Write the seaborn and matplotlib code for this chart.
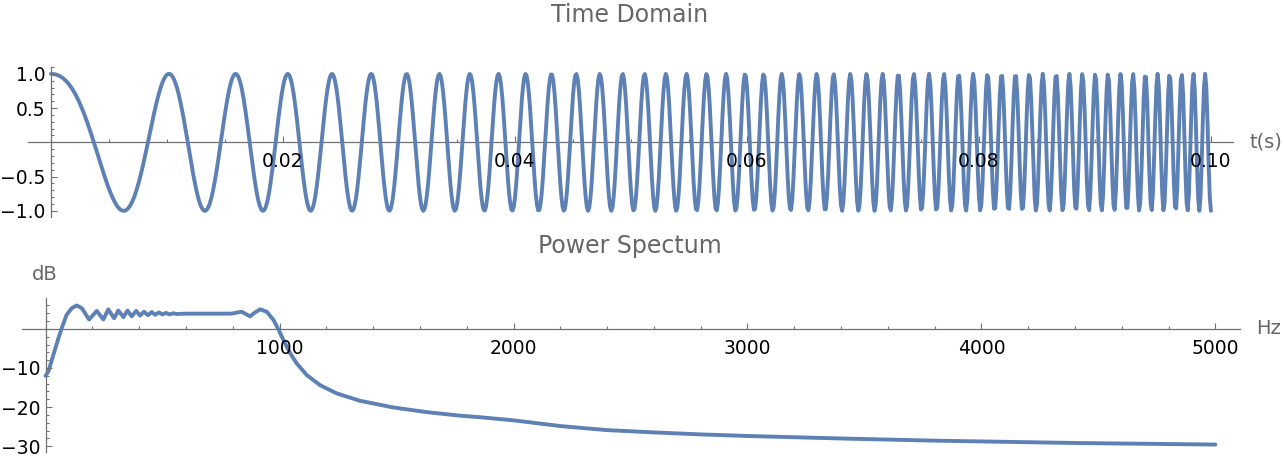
import numpy as np
import matplotlib
matplotlib.use("Agg")
import matplotlib.pyplot as plt
import seaborn as sns
from matplotlib.ticker import MultipleLocator, FixedLocator, FuncFormatter

# linear chirp (start/end frequency, length, sampling)
f_start = 50.0
f_end = 1000.0
duration = 0.1
sample_rate = 10000

# power spectrum, points
spec_hz = [0, 12, 33, 55, 69, 90, 112, 133, 155, 186, 219, 247, 268, 293, 311, 333,
           350, 368, 387, 404, 421, 437, 454, 468, 485, 500, 515, 530, 545, 560, 600,
           650, 700, 750, 795, 820, 838, 856, 874, 895, 917, 945, 974, 995, 1016, 1045,
           1073, 1116, 1173, 1244, 1344, 1486, 1629, 1771, 1857, 2000, 2206, 2400, 2605,
           2800, 3000, 3438, 3805, 4000, 4407, 5000]
spec_db = [-12.0, -10.9, -6.7, -2.4, 0.2, 3.6, 5.3, 6.0, 5.3, 2.4, 4.6, 2.4, 5.0, 2.7, 4.7, 3.0,
           4.7, 3.2, 4.6, 3.4, 4.4, 3.5, 4.3, 3.6, 4.2, 3.7, 4.1, 3.7, 4.0, 3.8, 3.9,
           3.9, 3.9, 3.9, 3.9, 4.2, 4.4, 3.8, 3.2, 4.2, 5.0, 4.4, 2.3, -0.1, -2.8, -6.2,
           -8.8, -11.8, -14.4, -16.5, -18.4, -20.1, -21.3, -22.2, -22.6, -23.4, -24.9, -25.9, -26.5,
           -27.0, -27.4, -28.1, -28.6, -28.8, -29.2, -29.6]

time_ticks = [0.02, 0.04, 0.06, 0.08, 0.10]
amp_ticks = [-1.0, -0.5, 0.5, 1.0]
hz_ticks = [1000, 2000, 3000, 4000, 5000]
db_ticks = [-30, -20, -10]

line_color = "#5E81B5"
axis_color = "#707070"
label_gray = "#666666"

sns.set_style("white")
plt.rcParams["font.family"] = ["DejaVu Sans"]

W, H = 1284, 458
fig = plt.figure(figsize=(W / 100, H / 100), dpi=100)


def px_axes(left, right, top, bottom):
    return fig.add_axes([left / W, 1 - bottom / H, (right - left) / W, (bottom - top) / H])


def fmt(decimals):
    return FuncFormatter(lambda v, pos: f"{v:.{decimals}f}".replace("-", "\u2212"))


def style_axes(ax):
    ax.patch.set_alpha(0)
    ax.set_axisbelow(False)
    for side in ["top", "right"]:
        ax.spines[side].set_visible(False)
    for side in ["left", "bottom"]:
        ax.spines[side].set_position(("data", 0))
        ax.spines[side].set_color(axis_color)
        ax.spines[side].set_linewidth(0.9)
        ax.spines[side].set_zorder(1)
    ax.tick_params(which="both", direction="in", colors=axis_color, labelcolor="black",
                   labelsize=13.5, width=0.8, bottom=True, left=True, top=False, right=False)
    ax.tick_params(which="major", length=4.5)
    ax.tick_params(which="minor", length=2.5)
    ax.tick_params(axis="x", pad=7)
    ax.tick_params(axis="y", pad=4)
    ax.set_xlabel("")
    ax.set_ylabel("")


# --- time domain ---
t = np.arange(0, int(duration * sample_rate) + 1) / sample_rate
signal = np.cos(2 * np.pi * (f_start * t + (f_end - f_start) * t ** 2 / (2 * duration)))

ax1 = px_axes(28, 1233, 67, 217)
sns.lineplot(x=t, y=signal, ax=ax1, color=line_color, linewidth=2.8, sort=False)
ax1.set_xlim(-0.00198, 0.1019)
ax1.set_ylim(-1.09, 1.10)
style_axes(ax1)
ax1.xaxis.set_major_locator(FixedLocator(time_ticks))
ax1.xaxis.set_major_formatter(fmt(2))
ax1.xaxis.set_minor_locator(MultipleLocator(0.005))
ax1.yaxis.set_major_locator(FixedLocator(amp_ticks))
ax1.yaxis.set_major_formatter(fmt(1))
ax1.yaxis.set_minor_locator(MultipleLocator(0.1))

# --- power spectrum ---
ax2 = px_axes(21.7, 1240, 298, 452)
sns.lineplot(x=spec_hz, y=spec_db, ax=ax2, color=line_color, linewidth=2.8, sort=False)
ax2.set_xlim(-102, 5105)
ax2.set_ylim(-31.5, 7.9)
style_axes(ax2)
ax2.xaxis.set_major_locator(FixedLocator(hz_ticks))
ax2.xaxis.set_major_formatter(fmt(0))
ax2.xaxis.set_minor_locator(MultipleLocator(200))
ax2.yaxis.set_major_locator(FixedLocator(db_ticks))
ax2.yaxis.set_major_formatter(fmt(0))
ax2.yaxis.set_minor_locator(MultipleLocator(2))

# titles and axis labels, Mathematica-style
fig.text(630 / W, 1 - 15 / H, "Time Domain", ha="center", va="center", fontsize=17, color=label_gray)
fig.text(630 / W, 1 - 246 / H, "Power Spectum", ha="center", va="center", fontsize=17, color=label_gray)
fig.text(1249 / W, 1 - 142 / H, "t(s)", ha="left", va="center", fontsize=14, color=label_gray)
fig.text(1256 / W, 1 - 329 / H, "Hz", ha="left", va="center", fontsize=14, color=label_gray)
fig.text(45 / W, 1 - 275 / H, "dB", ha="center", va="center", fontsize=14, color=label_gray)

fig.savefig("out.png", dpi=100, facecolor="white")
